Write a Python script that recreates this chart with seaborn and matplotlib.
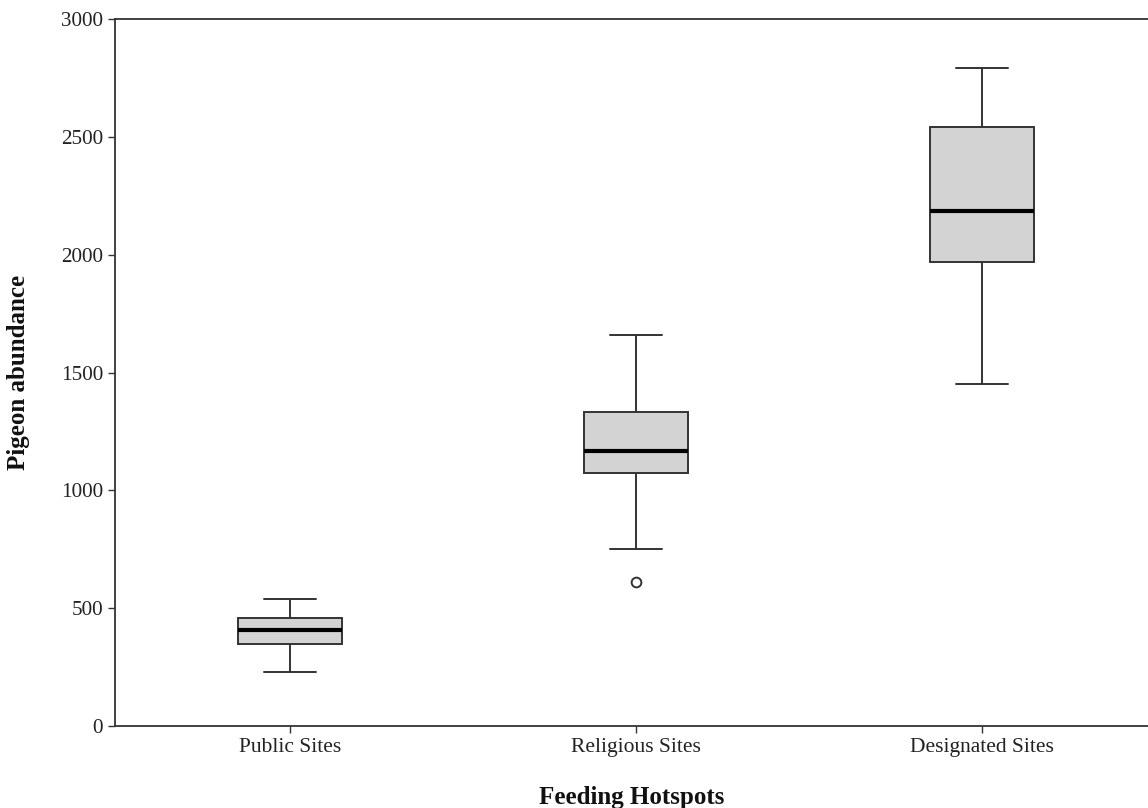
import matplotlib
matplotlib.use("Agg")
import matplotlib.pyplot as plt
import seaborn as sns
import pandas as pd

# Pigeon counts per feeding hotspot type
sites = ["Public Sites", "Religious Sites", "Designated Sites"]
public_counts = [230, 320, 348, 380, 406, 430, 460, 500, 537]
religious_counts = [610, 752, 1073, 1120, 1165, 1250, 1331, 1500, 1659]
designated_counts = [1451, 1800, 1970, 2100, 2185, 2350, 2540, 2700, 2792]
y_ticks = [0, 500, 1000, 1500, 2000, 2500, 3000]

df = pd.DataFrame({
    "site": [sites[0]] * len(public_counts)
    + [sites[1]] * len(religious_counts)
    + [sites[2]] * len(designated_counts),
    "count": public_counts + religious_counts + designated_counts,
})

sns.set_style("white")
plt.rcParams["font.family"] = ["Liberation Serif", "DejaVu Serif"]

fig = plt.figure(figsize=(11.48, 8.08), dpi=100)
ax = fig.add_axes([115 / 1148, 82 / 808, 1 - 115 / 1148, 707 / 808])

edge = "#333333"
sns.boxplot(
    data=df, x="site", y="count", order=sites, ax=ax,
    color="#d3d3d3", linecolor=edge, linewidth=1.4, width=0.3,
    saturation=1,
    medianprops={"color": "black", "linewidth": 3},
    flierprops={"marker": "o", "markersize": 7, "markerfacecolor": "white",
                "markeredgecolor": edge, "markeredgewidth": 1.4},
)

ax.set_ylim(0, 3000)
ax.set_xlim(-0.506, 2.48)
ax.set_yticks(y_ticks)
ax.set_yticklabels([str(t) for t in y_ticks])

for side in ["left", "bottom", "top"]:
    ax.spines[side].set_visible(True)
    ax.spines[side].set_color(edge)
    ax.spines[side].set_linewidth(1.3)
ax.spines["right"].set_visible(False)

ax.tick_params(axis="both", which="major", direction="out", length=5,
               width=1, color=edge, labelsize=15.5, labelcolor="#222222",
               left=True, bottom=True)
ax.tick_params(axis="y", labelsize=15.2)

ax.set_xlabel("Feeding Hotspots", fontsize=18, fontweight="bold",
              labelpad=21, color="#111111")
ax.set_ylabel("Pigeon abundance", fontsize=18, fontweight="bold",
              labelpad=22, color="#111111")

fig.savefig("out.png", dpi=100)
